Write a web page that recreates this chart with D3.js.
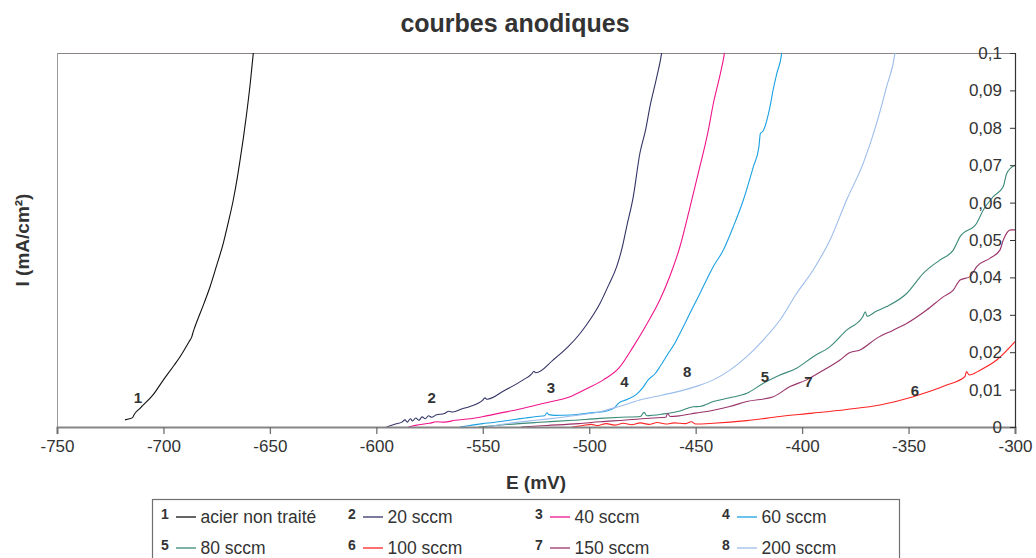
<!DOCTYPE html>
<html><head><meta charset="utf-8">
<script src="https://cdn.jsdelivr.net/npm/d3@7"></script>
<style>
html,body{margin:0;padding:0;background:#fff;}
text{font-family:"Liberation Sans",Arial,sans-serif;}
</style></head>
<body><svg id="c" width="1036" height="558"></svg>
<script>
// ---- data ----
const title = "courbes anodiques";
const xLabel = "E (mV)";
const yLabel = "I (mA/cm²)";
const xTicks = [-750,-700,-650,-600,-550,-500,-450,-400,-350,-300];
const yTicks = [0,0.01,0.02,0.03,0.04,0.05,0.06,0.07,0.08,0.09,0.1];
const seriesIds = ["1","2","3","4","5","6","7","8"];
const seriesNames = ["acier non traité","20 sccm","40 sccm","60 sccm","80 sccm","100 sccm","150 sccm","200 sccm"];
const seriesColors = ["#111111","#343466","#F0148C","#1BA1E2","#3A8A78","#FF2424","#9A3369","#9CBDEB"];

const s1 = [[-718.1,0.0019],[-716,0.0022],[-714.5,0.0025],[-714,0.0031],[-711,0.005],[-705,0.0085],[-700,0.0126],[-695,0.0165],[-692.2,0.0188],[-688,0.0228],[-686.7,0.0241],[-686,0.0255],[-685.2,0.0268],[-681,0.033],[-678.1,0.0375],[-675,0.0432],[-671.9,0.0491],[-669.5,0.0548],[-667.2,0.0607],[-665.5,0.066],[-664,0.0714],[-662.4,0.0775],[-660.9,0.0839],[-659.3,0.0915],[-657.8,0.0999],[-657,0.104]];
const s2 = [[-595.2,0],[-591,0.0008],[-588,0.0013],[-586.5,0.0019],[-585.5,0.0013],[-584,0.0022],[-583,0.0016],[-581.5,0.0024],[-580,0.0018],[-578.5,0.0027],[-577,0.0022],[-575.5,0.003],[-574,0.0026],[-572,0.0032],[-568,0.0036],[-566,0.0042],[-564,0.004],[-560,0.0048],[-556,0.0055],[-550,0.0072],[-549,0.0078],[-548,0.0074],[-540,0.0097],[-531,0.0126],[-527,0.0142],[-526,0.0149],[-525,0.0145],[-517,0.0179],[-510,0.0214],[-504.3,0.025],[-499,0.0292],[-494.9,0.0331],[-491,0.0378],[-487.1,0.0429],[-484.5,0.048],[-482.4,0.0536],[-479.3,0.0616],[-476.2,0.0732],[-473.5,0.0795],[-471.5,0.0856],[-468.5,0.093],[-466,0.0999],[-465,0.104]];
const s3 = [[-585,0],[-580,0.0006],[-575,0.001],[-571.7,0.0014],[-568,0.0013],[-563,0.0018],[-556,0.0022],[-549.8,0.0028],[-542,0.0037],[-535,0.0045],[-524.7,0.0059],[-516,0.007],[-509,0.0081],[-501,0.0103],[-493.4,0.0126],[-486,0.0158],[-479.3,0.0215],[-473,0.0275],[-466.8,0.034],[-462,0.0405],[-457.4,0.0482],[-453,0.058],[-448.8,0.0678],[-444,0.0795],[-441.7,0.0865],[-439,0.093],[-436.5,0.0999],[-435.5,0.104]];
const s4 = [[-560.7,0],[-556,0.0004],[-550,0.0009],[-545,0.0012],[-540,0.0016],[-535,0.002],[-530,0.0024],[-524.7,0.0028],[-521,0.003],[-519.8,0.0038],[-519,0.0033],[-516,0.0031],[-509,0.0032],[-502,0.0036],[-497,0.0039],[-493.4,0.0041],[-490,0.0046],[-488,0.0052],[-486.3,0.0063],[-482,0.0074],[-477.7,0.0088],[-475,0.0104],[-472.3,0.0126],[-469,0.0143],[-466.8,0.0161],[-463,0.0196],[-460,0.0222],[-457.4,0.025],[-455.8,0.0268],[-452.7,0.0304],[-448,0.0357],[-444.5,0.0398],[-441.7,0.0429],[-437,0.0473],[-432.3,0.0536],[-427.6,0.0607],[-422.9,0.0696],[-420.3,0.0749],[-419.6,0.0785],[-418.5,0.079],[-415.1,0.0856],[-413.5,0.0905],[-411.9,0.0945],[-409.6,0.0999],[-409,0.104]];
const s5 = [[-552,0],[-540,0.0006],[-525,0.0012],[-507.5,0.0018],[-495,0.0023],[-485,0.0026],[-476,0.0028],[-474.2,0.0039],[-473,0.003],[-465,0.0035],[-457.4,0.0043],[-451.1,0.0054],[-448,0.0055],[-441.7,0.0068],[-434,0.0078],[-426,0.009],[-418.2,0.0117],[-410.4,0.0139],[-402.6,0.0157],[-394.8,0.0188],[-386.9,0.0215],[-379.1,0.0259],[-371.5,0.0295],[-370.3,0.0308],[-369.5,0.0296],[-365,0.031],[-360.3,0.0322],[-350.9,0.0357],[-343.1,0.0411],[-335.2,0.0447],[-329,0.0473],[-325.8,0.0509],[-318,0.0545],[-314.9,0.058],[-310.2,0.0616],[-305.5,0.0643],[-303.9,0.0678],[-300,0.07]];
const s6 = [[-508,0],[-503,0.0004],[-499,0.0007],[-496,0.0004],[-492,0.0009],[-488,0.0005],[-484,0.001],[-480,0.0006],[-476,0.0011],[-472,0.0007],[-468,0.0012],[-464,0.0008],[-460,0.0011],[-455,0.0009],[-452,0.0014],[-450,0.0008],[-441.7,0.001],[-426,0.0017],[-410.4,0.0028],[-395,0.0037],[-379.1,0.0047],[-363.4,0.0059],[-347.8,0.0081],[-332.1,0.0112],[-323.5,0.0135],[-322.8,0.0148],[-321.5,0.0139],[-316.4,0.0152],[-308.6,0.0179],[-300,0.0228]];
const s7 = [[-532,0],[-520,0.0004],[-505,0.0009],[-494.9,0.0014],[-484,0.0018],[-470,0.0024],[-464,0.0026],[-463.2,0.0036],[-462,0.0028],[-457.4,0.003],[-450,0.0037],[-441.7,0.0045],[-434,0.0055],[-426,0.0068],[-413.5,0.0081],[-405.7,0.0108],[-397.9,0.0126],[-390,0.0152],[-382.2,0.0179],[-378,0.0198],[-372.8,0.0206],[-365,0.0237],[-357.2,0.0259],[-350.9,0.0277],[-341.5,0.0313],[-333.7,0.0348],[-329,0.0366],[-325.8,0.0393],[-321.1,0.0402],[-318,0.0429],[-311.8,0.0451],[-307.1,0.0473],[-305.5,0.05],[-302,0.0527],[-300,0.0527]];
const s8 = [[-548,0],[-540,0.0008],[-530,0.0015],[-520,0.0021],[-507.5,0.003],[-494.9,0.0041],[-486,0.0055],[-476.2,0.0072],[-466,0.0085],[-457.4,0.0096],[-448,0.0112],[-441.7,0.0126],[-433.9,0.0152],[-426,0.0188],[-418.2,0.0233],[-410.4,0.0286],[-402.6,0.0357],[-394.8,0.042],[-386.9,0.05],[-379.1,0.0607],[-371.3,0.0705],[-365,0.0812],[-360.3,0.091],[-356.4,0.0999],[-355.5,0.104]];
const seriesData = [s1,s2,s3,s4,s5,s6,s7,s8];
// curve label anchor points (E, I)
const labelPos = [[-712,0.0077],[-574,0.0077],[-518,0.0104],[-483.5,0.0121],[-417.5,0.0135],[-347,0.0096],[-397,0.0121],[-454,0.0148]];

// ---- layout ----
const M = {left:57, right:1015, top:53, bottom:427};
const svg = d3.select("#c");
const x = d3.scaleLinear().domain([-750,-300]).range([M.left, M.right]);
const y = d3.scaleLinear().domain([0,0.1]).range([M.bottom, M.top]);
const loc = d3.formatLocale({decimal:",", thousands:" ", grouping:[3], currency:["","€"], minus:"-"});
const yfmt = loc.format("~g");
const xfmt = loc.format("d");

// title
svg.append("text").attr("x",515).attr("y",32).attr("text-anchor","middle")
  .attr("font-size",25).attr("font-weight","bold").attr("fill","#333").text(title);

// plot frame (top & left)
svg.append("line").attr("x1",M.left).attr("x2",M.right).attr("y1",M.top+0.5).attr("y2",M.top+0.5).attr("stroke","#8c8484").attr("stroke-width",1);
svg.append("line").attr("x1",M.left+0.5).attr("x2",M.left+0.5).attr("y1",M.top).attr("y2",M.bottom).attr("stroke","#9a9a9a").attr("stroke-width",1);

// clip
svg.append("clipPath").attr("id","clip").append("rect")
  .attr("x",M.left).attr("y",M.top).attr("width",M.right-M.left).attr("height",M.bottom-M.top);

const line = d3.line().x(d=>x(d[0])).y(d=>y(d[1])).curve(d3.curveMonotoneX);
const g = svg.append("g").attr("clip-path","url(#clip)");
seriesData.forEach((d,i)=>{
  g.append("path").attr("d",line(d)).attr("fill","none")
   .attr("stroke",seriesColors[i]).attr("stroke-width",1.1).attr("stroke-linejoin","round");
});

// x axis
const xAxis = d3.axisBottom(x).tickValues(xTicks).tickFormat(xfmt).tickSize(7).tickPadding(6);
const gx = svg.append("g").attr("transform",`translate(0,${M.bottom})`).call(xAxis);
gx.select(".domain").attr("stroke","#858585").attr("stroke-width",2);
gx.selectAll(".tick line").attr("stroke","#707070").attr("stroke-width",1.3);
gx.selectAll(".tick text").attr("font-size",17).attr("fill","#333").attr("font-family","Liberation Sans, Arial, sans-serif");

// y axis on right with labels on the left
const yAxis = d3.axisLeft(y).tickValues(yTicks).tickFormat(yfmt).tickSize(5).tickPadding(8);
const gy = svg.append("g").attr("transform",`translate(${M.right},0)`).call(yAxis);
gy.select(".domain").attr("stroke","#333").attr("stroke-width",1.2);
gy.selectAll(".tick line").attr("stroke","#333");
gy.selectAll(".tick text").attr("font-size",17).attr("fill","#333").attr("font-family","Liberation Sans, Arial, sans-serif");

// axis titles
svg.append("text").attr("x",536).attr("y",489).attr("text-anchor","middle")
  .attr("font-size",19).attr("font-weight","bold").attr("fill","#333").text(xLabel);
svg.append("text").attr("transform","translate(29,240) rotate(-90)").attr("text-anchor","middle")
  .attr("font-size",19).attr("font-weight","bold").attr("fill","#333").text(yLabel);

// curve labels
labelPos.forEach((p,i)=>{
  svg.append("text").attr("x",x(p[0])).attr("y",y(p[1])).attr("text-anchor","middle").attr("dy","0.35em")
    .attr("font-size",15).attr("font-weight","bold").attr("fill","#333").text(seriesIds[i]);
});

// legend
svg.append("rect").attr("x",152.5).attr("y",499.5).attr("width",747).attr("height",80)
  .attr("fill","#fff").attr("stroke","#707070").attr("stroke-width",1.2);
seriesNames.forEach((n,i)=>{
  const col = i%4, row = Math.floor(i/4);
  const x0 = 161 + col*187, cy = 517 + row*31;
  const lg = svg.append("g");
  lg.append("text").attr("x",x0).attr("y",cy-2.5).attr("dy","0.35em").attr("font-size",14).attr("font-weight","bold").attr("fill","#333").text(seriesIds[i]);
  lg.append("line").attr("x1",x0+15).attr("x2",x0+35).attr("y1",cy).attr("y2",cy).attr("stroke",seriesColors[i]).attr("stroke-width",1.3);
  lg.append("text").attr("x",x0+39.5).attr("y",cy).attr("dy","0.35em").attr("font-size",17.5).attr("fill","#333").text(n);
});
</script></body></html>
